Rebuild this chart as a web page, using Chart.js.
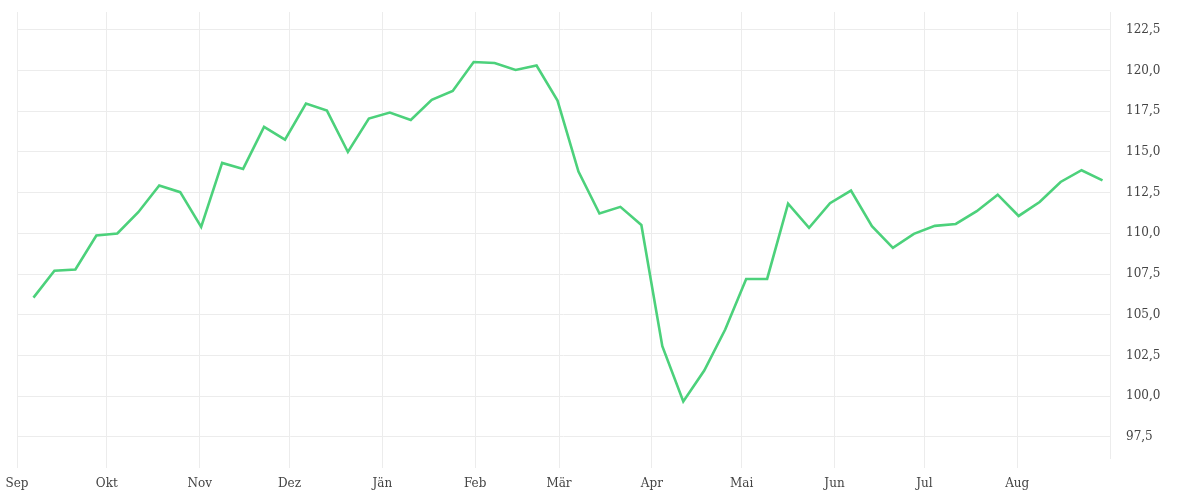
<!DOCTYPE html>
<html>
<head>
<meta charset="utf-8">
<script src="https://cdn.jsdelivr.net/npm/chart.js@4.4.1/dist/chart.umd.min.js"></script>
<style>
html,body{margin:0;padding:0;background:#fff;}
#wrap{width:1200px;height:500px;position:relative;}
</style>
</head>
<body>
<div id="wrap"><canvas id="c"></canvas></div>
<script>
// Weekly observation dates
const weekDates = [
 '2021-09-06','2021-09-13','2021-09-20','2021-09-27','2021-10-04','2021-10-11','2021-10-18','2021-10-25',
 '2021-11-01','2021-11-08','2021-11-15','2021-11-22','2021-11-29','2021-12-06','2021-12-13','2021-12-20',
 '2021-12-27','2022-01-03','2022-01-10','2022-01-17','2022-01-24','2022-01-31','2022-02-07','2022-02-14',
 '2022-02-21','2022-02-28','2022-03-07','2022-03-14','2022-03-21','2022-03-28','2022-04-04','2022-04-11',
 '2022-04-18','2022-04-25','2022-05-02','2022-05-09','2022-05-16','2022-05-23','2022-05-30','2022-06-06',
 '2022-06-13','2022-06-20','2022-06-27','2022-07-04','2022-07-11','2022-07-18','2022-07-25','2022-08-01',
 '2022-08-08','2022-08-15','2022-08-22','2022-08-29'
];
// Index values
const values = [
 106.05,107.7,107.78,109.87,109.99,111.3,112.94,112.53,
 110.4,114.33,113.96,116.54,115.76,117.97,117.54,115.0,
 117.05,117.42,116.97,118.2,118.75,120.53,120.47,120.04,
 120.31,118.16,113.8,111.22,111.63,110.52,103.07,99.67,
 101.57,104.09,107.2,107.2,111.83,110.34,111.85,112.63,
 110.44,109.11,109.97,110.46,110.58,111.36,112.38,111.07,
 111.93,113.16,113.88,113.26
];
// Month ticks
const monthStarts = ['2021-09-01','2021-10-01','2021-11-01','2021-12-01','2022-01-01','2022-02-01',
 '2022-03-01','2022-04-01','2022-05-01','2022-06-01','2022-07-01','2022-08-01'];
const monthLabels = ['Sep','Okt','Nov','Dez','Jän','Feb','Mär','Apr','Mai','Jun','Jul','Aug'];
const axisStart = '2021-09-01';
const axisEnd = '2022-09-01';
const yTicks = [97.5,100,102.5,105,107.5,110,112.5,115,117.5,120,122.5];
const yMin = 96.2, yMax = 123.6;

const DAY = 86400000;
const t0 = Date.parse(axisStart + 'T00:00:00Z');
const dayOf = s => (Date.parse(s + 'T00:00:00Z') - t0) / DAY;
const pts = weekDates.map((d, i) => ({x: dayOf(d) + 0.5, y: values[i]}));
const mTicks = monthStarts.map(dayOf);

const fontFam = '"DejaVu Serif", "Liberation Serif", serif';
new Chart(document.getElementById('c'), {
  type: 'line',
  data: { datasets: [{
    data: pts,
    borderColor: '#4cd17b',
    borderWidth: 2.6,
    pointRadius: 0,
    tension: 0,
    fill: false
  }]},
  options: {
    responsive: true,
    maintainAspectRatio: false,
    animation: false,
    layout: { padding: { left: 17, top: 12, right: 0, bottom: 0 } },
    plugins: { legend: { display: false }, tooltip: { enabled: false } },
    scales: {
      x: {
        type: 'linear',
        min: 0,
        max: dayOf(axisEnd),
        afterBuildTicks: s => { s.ticks = mTicks.map(v => ({value: v})); },
        afterFit: s => { s.height = 42; s.paddingLeft = 0; s.paddingRight = 0; },
        grid: { color: '#ececec', lineWidth: 1, drawTicks: true, tickLength: 10 },
        border: { display: false },
        ticks: {
          autoSkip: false,
          maxRotation: 0,
          padding: 9,
          color: '#444',
          font: { family: fontFam, size: 12 },
          callback: (v) => { const i = mTicks.indexOf(v); return i >= 0 ? monthLabels[i] : ''; }
        }
      },
      y: {
        position: 'right',
        min: yMin,
        max: yMax,
        afterBuildTicks: s => { s.ticks = yTicks.map(v => ({value: v})); },
        afterFit: s => { s.width = 90; s.paddingTop = 0; s.paddingBottom = 0; },
        grid: { color: '#ececec', lineWidth: 1, drawTicks: false },
        border: { display: true, color: '#ececec' },
        ticks: {
          padding: 16,
          color: '#444',
          font: { family: fontFam, size: 12 },
          callback: v => v.toFixed(1).replace('.', ',')
        }
      }
    }
  }
});
</script>
</body>
</html>
